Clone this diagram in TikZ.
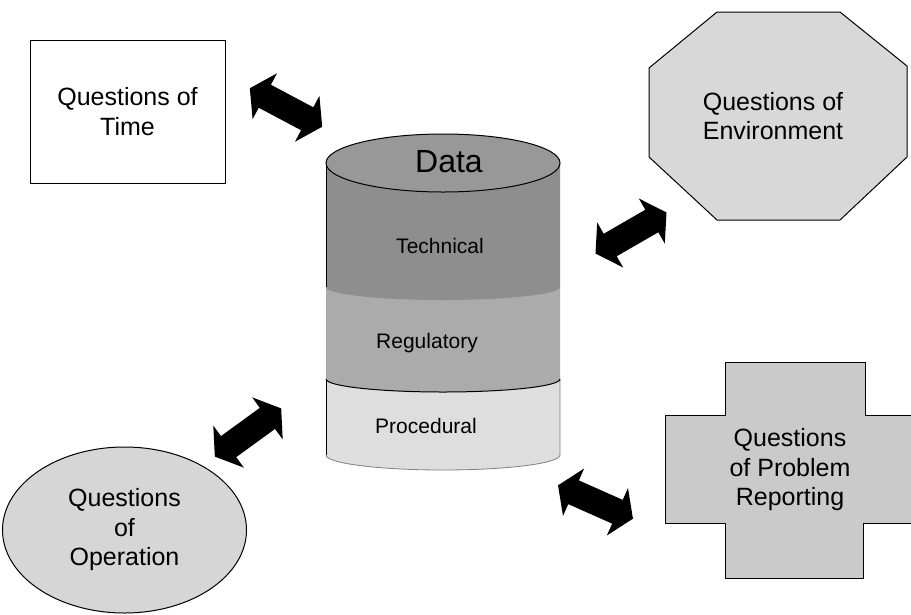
\documentclass[tikz,border=0pt]{standalone}
\usepackage{fontspec}
\setmainfont{Liberation Sans}
\usetikzlibrary{shapes.geometric}
\definecolor{techgray}{HTML}{8E8E8E}
\definecolor{topgray}{HTML}{989898}
\definecolor{reggray}{HTML}{ABABAB}
\definecolor{procgray}{HTML}{DEDEDE}
\definecolor{envgray}{HTML}{D8D8D8}
\definecolor{opgray}{HTML}{D6D6D6}
\definecolor{crossgray}{HTML}{CACACA}
\begin{document}
\begin{tikzpicture}[x=1pt,y=-1pt,
  outline/.style={draw=black,line width=1pt},
  qtext/.style={font=\fontsize{25}{29.5}\selectfont, align=center, inner sep=0pt},
  cyltext/.style={font=\fontsize{21}{25}\selectfont, anchor=base, inner sep=0pt},
  dblarrow/.pic={\fill[black] (41,0) -- (24,26) -- (24,13) -- (-24,13) -- (-24,26) -- (-41,0) -- (-24,-26) -- (-24,-13) -- (24,-13) -- (24,-26) -- cycle;}
]
\useasboundingbox (0,0) rectangle (911,614);

% Questions of Time
\node[outline, fill=white, minimum width=195, minimum height=143, qtext] (time) at (127.5,111.5) {Questions of\\Time};

% Questions of Environment (octagon)
\draw[outline, fill=envgray] (717,12) -- (840,12) -- (907,66) -- (907,157) -- (840,220) -- (717,220) -- (649,157) -- (649,68) -- cycle;
\node[qtext] (env) at (773,116) {Questions of\\Environment};

% Questions of Problem Reporting (cross)
\begin{scope}
\clip (0,0) rectangle (911,614);
\draw[outline, fill=crossgray] (725,362) -- (865,362) -- (865,415) -- (925,415) -- (925,523) -- (863,523) -- (863,578) -- (725,578) -- (725,523) -- (665,523) -- (665,415) -- (725,415) -- cycle;
\end{scope}
\node[qtext] (prob) at (790,470) {Questions\\of Problem\\Reporting};

% Questions of Operation (ellipse)
\node[ellipse, outline, fill=opgray, minimum width=244, minimum height=166, qtext] (op) at (124.5,530) {Questions\\of\\Operation};

% Data cylinder
\fill[procgray] (326,376) -- (326,455) arc[start angle=180, end angle=0, x radius=117, y radius=15] -- (560,376) -- cycle;
\draw[gray, line width=0.8pt] (560,379) -- (560,455) arc[start angle=0, end angle=180, x radius=117, y radius=15];
\draw[outline] (326,379) -- (326,455);
\fill[reggray] (326,285) -- (326,379) arc[start angle=180, end angle=0, x radius=117, y radius=13] -- (560,285) -- cycle;
\draw[outline] (326,379) arc[start angle=180, end angle=0, x radius=117, y radius=13];
\fill[techgray] (326,163) -- (326,287) arc[start angle=180, end angle=0, x radius=117, y radius=13] -- (560,163) -- cycle;
\draw[outline] (326,163) -- (326,287);
\draw[outline, fill=topgray] (443,163) ellipse [x radius=117, y radius=29];

\node[font=\fontsize{32}{38}\selectfont, anchor=base, inner sep=0pt] (data) at (449,172) {Data};
\node[cyltext] (tech) at (440,253) {Technical};
\node[cyltext] (reg) at (427,348) {Regulatory};
\node[cyltext] (proc) at (426,433) {Procedural};

% double arrows
\coordinate (a1) at (286,107.5);
\coordinate (a2) at (631,233);
\coordinate (a3) at (248,432.5);
\coordinate (a4) at (595.5,502);
\pic[rotate=-28] at (a1) {dblarrow};
\pic[rotate=30] at (a2) {dblarrow};
\pic[rotate=36] at (a3) {dblarrow};
\pic[rotate=-24] at (a4) {dblarrow};
\end{tikzpicture}
\end{document}
